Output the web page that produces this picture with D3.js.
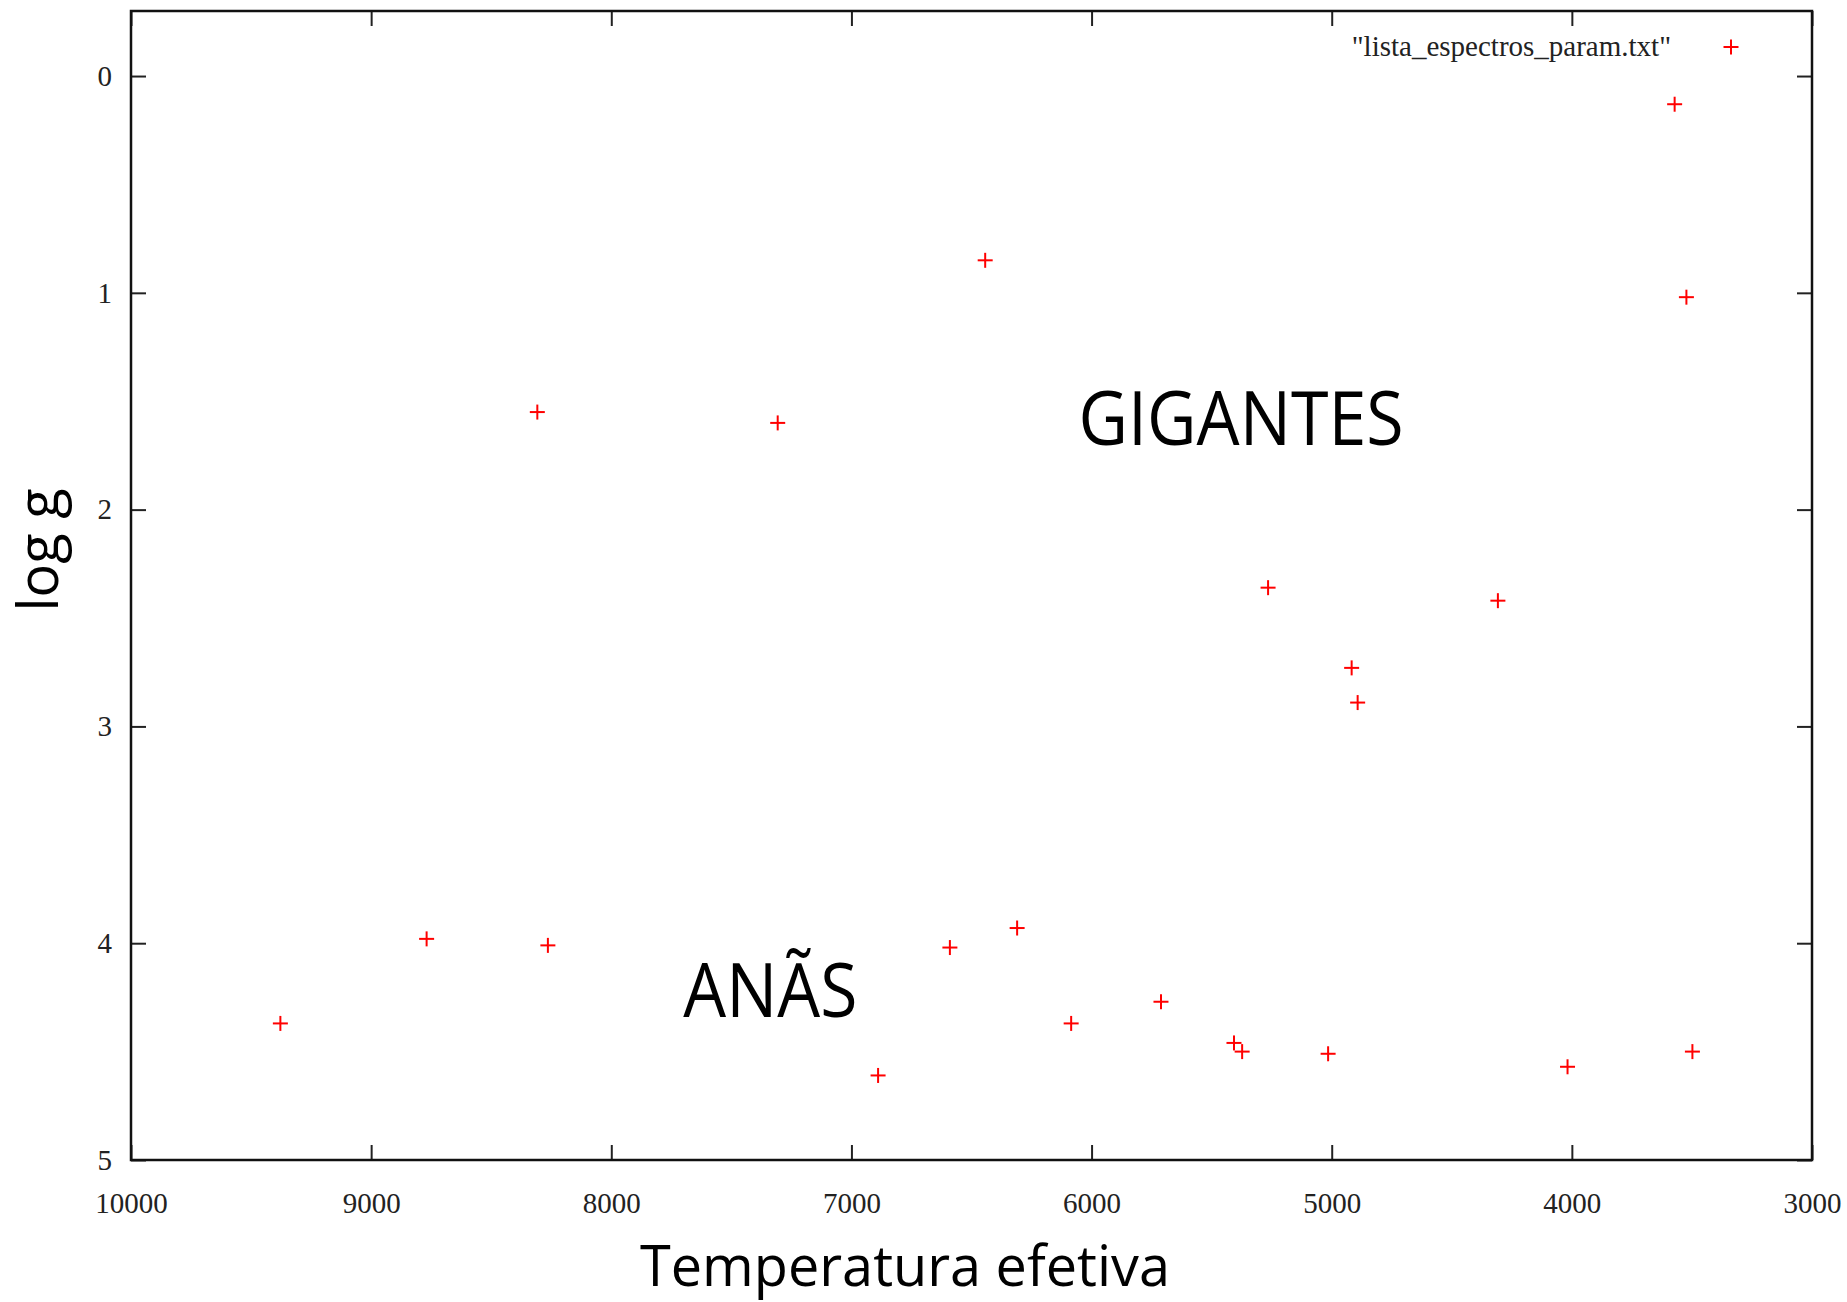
<!DOCTYPE html>
<html>
<head>
<meta charset="utf-8">
<script src="https://cdn.jsdelivr.net/npm/d3@7"></script>
<style>
	body { margin: 0; background: #fff; }
	svg { display: block; }
	.tick text { font-family: "Liberation Serif", "Times New Roman", serif; font-size: 29px; fill: #222; }
</style>
</head>
<body>
<svg width="1847" height="1302"></svg>
<script>
// effective temperature (K) and log g of each spectrum
var temperatures = [3572, 6443, 3523, 8308, 7307, 5265, 4308, 4917, 4892,
	8769, 8264, 6310, 6590, 9378, 6085, 5711, 6889, 5407, 5373, 5015, 4018, 3498];
var loggs = [0.13, 0.85, 1.02, 1.55, 1.60, 2.36, 2.42, 2.73, 2.89,
	3.98, 4.01, 3.93, 4.02, 4.37, 4.37, 4.27, 4.61, 4.46, 4.50, 4.51, 4.57, 4.50];

var xTicks = [10000, 9000, 8000, 7000, 6000, 5000, 4000, 3000];
var yTicks = [0, 1, 2, 3, 4, 5];

var seriesName = '"lista_espectros_param.txt"';
var regionLabels = [
	{ text: "GIGANTES", temp: 6054, logg: 1.70, width: 325 },
	{ text: "ANÃS", temp: 7700, logg: 4.34, width: 174 }
];

var svg = d3.select("svg");

// plot area (window.top is taken, so no bare "top")
var plotLeft = 131, plotRight = 1812, plotTop = 11, plotBottom = 1160;

var x = d3.scaleLinear().domain([10000, 3000]).range([plotLeft, plotRight]);
var y = d3.scaleLinear().domain([-0.3, 5]).range([plotTop, plotBottom]);

var stars = temperatures.map(function(t, i) { return { temp: t, logg: loggs[i] }; });

// axes, ticks pointing in on all four sides
var tickLen = 15;

var gx = svg.append("g")
	.attr("transform", "translate(0," + plotBottom + ")")
	.call(d3.axisBottom(x).tickValues(xTicks).tickSizeInner(-tickLen).tickSizeOuter(0).tickPadding(32).tickFormat(d3.format("d")));
var gy = svg.append("g")
	.attr("transform", "translate(" + plotLeft + ",0)")
	.call(d3.axisLeft(y).tickValues(yTicks).tickSizeInner(-tickLen).tickSizeOuter(0).tickPadding(19).tickFormat(d3.format("d")));
var gxTop = svg.append("g")
	.attr("transform", "translate(0," + plotTop + ")")
	.call(d3.axisTop(x).tickValues(xTicks).tickSizeInner(-tickLen).tickSizeOuter(0).tickFormat(""));
var gyRight = svg.append("g")
	.attr("transform", "translate(" + plotRight + ",0)")
	.call(d3.axisRight(y).tickValues(yTicks).tickSizeInner(-tickLen).tickSizeOuter(0).tickFormat(""));

[gx, gy, gxTop, gyRight].forEach(function(g) {
	g.select(".domain").remove();
	g.selectAll(".tick line").attr("stroke", "#222").attr("stroke-width", 2);
});

// frame
svg.append("rect")
	.attr("x", plotLeft)
	.attr("y", plotTop)
	.attr("width", plotRight - plotLeft)
	.attr("height", plotBottom - plotTop)
	.attr("fill", "none")
	.attr("stroke", "#111")
	.attr("stroke-width", 2.5);

// plus markers
function plus(sel) {
	sel.append("line").attr("x1", -7.5).attr("x2", 7.5).attr("y1", 0).attr("y2", 0);
	sel.append("line").attr("x1", 0).attr("x2", 0).attr("y1", -7.5).attr("y2", 7.5);
}

svg.append("g")
	.attr("class", "points")
	.attr("stroke", "#ff0000")
	.attr("stroke-width", 2)
	.selectAll("g")
	.data(stars)
	.enter()
	.append("g")
	.attr("transform", function(d) { return "translate(" + x(d.temp) + "," + y(d.logg) + ")"; })
	.call(plus);

// key
svg.append("text")
	.attr("x", 1671)
	.attr("y", 56)
	.attr("text-anchor", "end")
	.style("font-family", "'Liberation Serif', serif")
	.style("font-size", "29px")
	.style("fill", "#222")
	.text(seriesName);

svg.append("g")
	.attr("stroke", "#ff0000")
	.attr("stroke-width", 2)
	.attr("transform", "translate(1731,47)")
	.call(plus);

// region labels
svg.selectAll(".region")
	.data(regionLabels)
	.enter()
	.append("text")
	.attr("class", "region")
	.attr("x", function(d) { return x(d.temp); })
	.attr("y", function(d) { return y(d.logg); })
	.attr("textLength", function(d) { return d.width; })
	.attr("lengthAdjust", "spacingAndGlyphs")
	.style("font-family", "'Open Sans', sans-serif")
	.style("font-size", "75px")
	.style("fill", "#000")
	.text(function(d) { return d.text; });

// axis titles
svg.append("text")
	.attr("x", 905)
	.attr("y", 1286)
	.attr("text-anchor", "middle")
	.attr("textLength", 530)
	.attr("lengthAdjust", "spacingAndGlyphs")
	.style("font-family", "'Open Sans', sans-serif")
	.style("font-size", "56px")
	.text("Temperatura efetiva");

svg.append("text")
	.attr("transform", "translate(58,550) rotate(-90)")
	.attr("text-anchor", "middle")
	.style("font-family", "'Open Sans', sans-serif")
	.style("font-size", "56px")
	.text("log g");
</script>
</body>
</html>
